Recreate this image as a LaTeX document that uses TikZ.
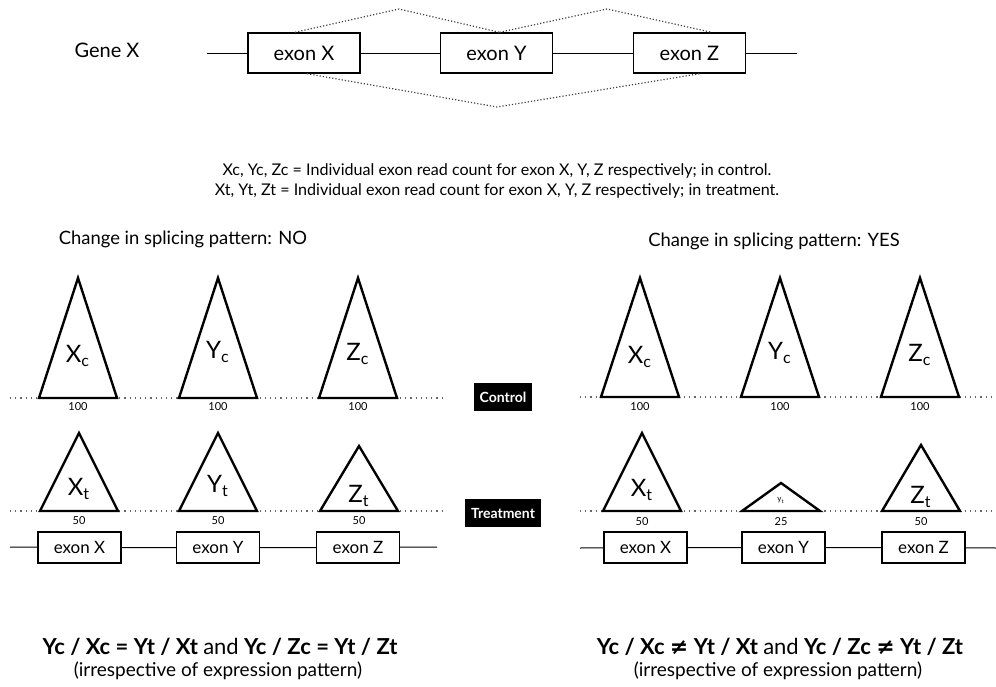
\documentclass[tikz,border=0pt]{standalone}
\usepackage{fontspec}
\setmainfont{Lato}
\newfontfamily\symfont{DejaVu Sans}
\usetikzlibrary{positioning}

\begin{document}
\begin{tikzpicture}[
    x=0.5pt, y=-0.5pt,
    exon/.style={rectangle, draw, line width=0.7pt, fill=white, minimum width=56pt, minimum height=20pt, inner sep=0pt, font=\fontsize{10}{12}\selectfont},
    smallexon/.style={exon, minimum width=41.5pt, minimum height=15.5pt, font=\fontsize{8.5}{10}\selectfont},
    intron/.style={line width=0.5pt},
    splice/.style={densely dotted, line width=0.6pt, black!75},
    baseline/.style={dotted, line width=0.6pt, black!60},
    peak/.style={draw, line width=1.2pt, line join=miter},
    readlab/.style={font=\fontsize{12}{14}\selectfont, inner sep=0pt},
    count/.style={font=\fontsize{5.5}{6}\selectfont, inner sep=0pt},
    sample/.style={fill=black, text=white, font=\bfseries\fontsize{7}{8}\selectfont, minimum height=14pt, inner xsep=3pt},
    title/.style={font=\fontsize{9.2}{11}\selectfont},
    note/.style={font=\fontsize{8.05}{10}\selectfont, inner sep=0pt},
    ratio/.style={font=\bfseries\fontsize{11}{13}\selectfont, inner sep=0pt},
    remark/.style={font=\fontsize{9.5}{11}\selectfont, inner sep=0pt}
]
    \useasboundingbox (0,0) rectangle (996,686);

    % Gene model
    \node (gene) at (107,50) {\fontsize{10}{12}\selectfont Gene X};
    \coordinate (geneL) at (207,53);
    \coordinate (geneR) at (797,53);
    \node[exon] (exonX) at (304,53) {exon X};
    \node[exon] (exonY) at (496.5,53) {exon Y};
    \node[exon] (exonZ) at (689.5,53) {exon Z};
    \draw[intron] (geneL) -- (exonX) -- (exonY) -- (exonZ) -- (geneR);

    % Splice junctions
    \coordinate (jXY) at (399,9);
    \coordinate (jYZ) at (607,9);
    \coordinate (jXZ) at (497,107);
    \draw[splice] ([xshift=-4.5pt]exonX.north) -- (jXY) -- ([xshift=1.5pt]exonY.north);
    \draw[splice] ([xshift=1.5pt]exonY.north) -- (jYZ) -- ([xshift=11pt]exonZ.north);
    \draw[splice] ([xshift=1.5pt]exonX.south) -- (jXZ) -- ([xshift=5pt]exonZ.south);

    % Legend
    \node[note] (legc) at (497,171) {Xc, Yc, Zc = Individual exon read count for exon X, Y, Z respectively; in control.};
    \node[note] (legt) at (497,191) {Xt, Yt, Zt = Individual exon read count for exon X, Y, Z respectively; in treatment.};

    % Headings
    \node[title] (headNo) at (183,239) {Change in splicing pattern: NO};
    \node[title] (headYes) at (774,241) {Change in splicing pattern: YES};

    % Control row
    \coordinate (ctlLa) at (10,398);
    \coordinate (ctlLb) at (443,398);
    \coordinate (ctlRa) at (580,397);
    \coordinate (ctlRb) at (996,397);
    \draw[baseline] (ctlLa) -- (ctlLb);
    \draw[baseline] (ctlRa) -- (ctlRb);

    \draw[peak] (39,398) -- (78,278) -- (117,398) -- cycle;
    \draw[peak] (179,398) -- (218,278) -- (257,398) -- cycle;
    \draw[peak] (319,398) -- (358,278) -- (397,398) -- cycle;
    \node[readlab] (xcL) at (78,356) {X\textsubscript{c}};
    \node[readlab] (ycL) at (218,352) {Y\textsubscript{c}};
    \node[readlab] (zcL) at (358,354) {Z\textsubscript{c}};
    \node[count] (nxcL) at (78,407) {100};
    \node[count] (nycL) at (218,407) {100};
    \node[count] (nzcL) at (358,407) {100};

    \draw[peak] (601,397) -- (640,278) -- (679,397) -- cycle;
    \draw[peak] (741,397) -- (780,278) -- (819,397) -- cycle;
    \draw[peak] (881,397) -- (920,278) -- (959,397) -- cycle;
    \node[readlab] (xcR) at (640,357) {X\textsubscript{c}};
    \node[readlab] (ycR) at (780,353) {Y\textsubscript{c}};
    \node[readlab] (zcR) at (920,355) {Z\textsubscript{c}};
    \node[count] (nxcR) at (640,407) {100};
    \node[count] (nycR) at (780,407) {100};
    \node[count] (nzcR) at (920,407) {100};

    \node[sample] (control) at (503,397) {Control};

    % Treatment row
    \coordinate (trtLa) at (10,511);
    \coordinate (trtLb) at (443,511);
    \coordinate (trtRa) at (580,511);
    \coordinate (trtRb) at (996,511);
    \draw[baseline] (trtLa) -- (trtLb);
    \draw[baseline] (trtRa) -- (trtRb);

    \draw[peak] (40,511) -- (79,433) -- (118,511) -- cycle;
    \draw[peak] (179,511) -- (218,433) -- (257,511) -- cycle;
    \draw[peak] (320,511) -- (359,446) -- (398,511) -- cycle;
    \node[readlab] (xtL) at (79,489) {X\textsubscript{t}};
    \node[readlab] (ytL) at (218,486) {Y\textsubscript{t}};
    \node[readlab] (ztL) at (359,496) {Z\textsubscript{t}};
    \node[count] (nxtL) at (79,521) {50};
    \node[count] (nytL) at (218,521) {50};
    \node[count] (nztL) at (359,521) {50};

    \draw[peak] (603,511) -- (642,433) -- (681,511) -- cycle;
    \draw[peak] (742,511) -- (781,483) -- (820,511) -- cycle;
    \draw[peak] (882,511) -- (921,445) -- (960,511) -- cycle;
    \node[readlab] (xtR) at (642,490) {X\textsubscript{t}};
    \node[font=\fontsize{4}{5}\selectfont, inner sep=0pt] (ytR) at (781,500) {y\textsubscript{t}};
    \node[readlab] (ztR) at (921,497) {Z\textsubscript{t}};
    \node[count] (nxtR) at (642,522) {50};
    \node[count] (nytR) at (781,522) {25};
    \node[count] (nztR) at (921,522) {50};

    \node[sample] (treatment) at (503,513) {Treatment};

    % Exon structure under each panel
    \coordinate (rowLa) at (10,547);
    \coordinate (rowLb) at (437,547);
    \node[smallexon] (exXL) at (79.5,547.5) {exon X};
    \node[smallexon] (exYL) at (218,547.5) {exon Y};
    \node[smallexon] (exZL) at (358,547.5) {exon Z};
    \draw[intron] (rowLa) -- (exXL) -- (exYL) -- (exZL) -- (rowLb);

    \coordinate (rowRa) at (580,548);
    \coordinate (rowRb) at (996,548);
    \node[smallexon] (exXR) at (645.5,547.5) {exon X};
    \node[smallexon] (exYR) at (783.5,547.5) {exon Y};
    \node[smallexon] (exZR) at (923.5,547.5) {exon Z};
    \draw[intron] (rowRa) -- (exXR) -- (exYR) -- (exZR) -- (rowRb);

    % Ratios
    \node[ratio] (ratioNo) at (220,647) {Yc / Xc = Yt / Xt \textmd{and} Yc / Zc = Yt / Zt};
    \node[remark] (noteNo) at (218,671) {(irrespective of expression pattern)};
    \node[ratio] (ratioYes) at (780,647) {Yc / Xc {\symfont ≠} Yt / Xt \textmd{and} Yc / Zc {\symfont ≠} Yt / Zt};
    \node[remark] (noteYes) at (778,671) {(irrespective of expression pattern)};
\end{tikzpicture}
\end{document}
